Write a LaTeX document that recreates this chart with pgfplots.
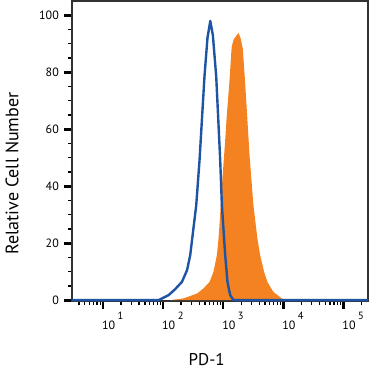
\documentclass[border=0pt]{standalone}
\usepackage{pgfplots}
\pgfplotsset{compat=1.18}
\usepackage{fontspec}
\setmainfont{PT Sans}
\definecolor{orangeC}{RGB}{245,130,32}
\definecolor{blueC}{RGB}{31,84,165}
\definecolor{frameC}{RGB}{50,50,50}
\newcommand{\dec}[1]{\fontsize{12bp}{13bp}\selectfont 10\hspace{2.5bp}\raisebox{10bp}{\fontsize{10.5bp}{11bp}\selectfont #1}}
\begin{document}
\begin{tikzpicture}
\begin{axis}[
  name=ax,
  scale only axis,
  width=296bp, height=300bp,
  xmode=log,
  xmin=3.06, xmax=2.58e5,
  ymin=-0.3, ymax=105,
  axis line style={frameC, line width=1.2bp},
  tick align=outside,
  xtick pos=bottom, ytick pos=left,
  xtick={10,100,1000,10000,100000},
  xticklabels={\dec{1},\dec{2},\dec{3},\dec{4},\dec{5}},
  minor xtick={4,5,6,7,8,9,20,30,40,50,60,70,80,90,200,300,400,500,600,700,800,900,2000,3000,4000,5000,6000,7000,8000,9000,20000,30000,40000,50000,60000,70000,80000,90000,200000},
  xticklabel style={anchor=north west, inner sep=0pt, xshift=-1bp, yshift=-3bp},
  ytick={0,20,40,60,80,100},
  minor y tick num=3,
  yticklabel style={font=\fontsize{12bp}{13bp}\selectfont, inner sep=0pt, xshift=-5bp},
  /pgf/number format/assume math mode=true,
  major tick length=8bp,
  minor tick length=4bp,
  every major tick/.style={line width=2.8bp, black},
  every minor tick/.style={line width=1.2bp, black},
  ylabel={Relative Cell Number},
  ylabel style={at={(axis description cs:-0.236,0.425)}, anchor=north, font=\fontsize{18bp}{20bp}\selectfont},
  xlabel={PD-1},
  xlabel style={at={(axis description cs:0.455,-0.195)}, anchor=center, font=\fontsize{17bp}{19bp}\selectfont},
  clip=true,
]
\addplot[fill=orangeC, draw=none] coordinates {
(131.8,0) (218.8,0.6) (367.3,2.3) (472.1,4.1) (594.3,6.4) (691.8,9.9)
(788.9,15.8) (839.5,21.6) (889,29.2) (940,38) (1007,46.8) (1075,55) (1148,64.3)
(1268,76) (1390,88.9) (1500,91.5) (1620,92.5) (1803.0,93.8) (1950,92.0) (2128.1,88.3)
(2300,78) (2483.1,66.7) (2754.2,50.9) (3198.9,33.3) (3723.9,21.6) (4130.5,15.8)
(4819.6,9.9) (5457.6,6.4) (6870.9,2.9) (9462.4,0.6) (11481.5,0)
} \closedcycle;
\addplot[blueC, line width=2.4bp, line join=round] coordinates {
(3.06,0) (84.5,0) (123.9,1.75) (158.5,3.8) (206.5,6.4) (251.2,10.5)
(283.8,15.8) (357.3,33.3) (405.5,49.1) (489.8,78.4) (549.5,92)
(612.4,98.0) (676.1,93) (769.1,78.4) (895.4,49.1) (955.0,33.3)
(1083.9,15.8) (1183.0,6.4) (1312.2,1.75) (1489.4,0) (2.58e5,0)
};
\end{axis}
\pgfresetboundingbox
\path ([xshift=-72bp,yshift=-71bp]ax.south west) rectangle ([xshift=2bp,yshift=1bp]ax.north east);
\end{tikzpicture}
\end{document}
